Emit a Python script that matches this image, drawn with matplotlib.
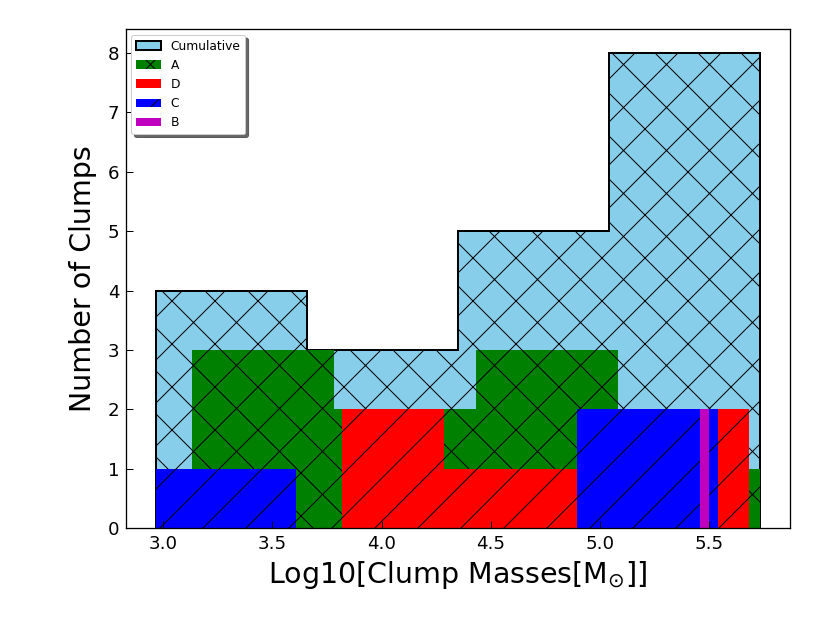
import numpy as np
from matplotlib import pyplot as plt
import matplotlib.legend as mlegend
from matplotlib.patches import Shadow

# log10 clump masses per region
massA = [3.134, 3.35, 3.55, 4.05, 4.40, 4.60, 4.80, 4.95, 5.731]
massD = [3.821, 4.10, 4.50, 5.10, 5.45, 5.681]
massC = [2.967, 5.25, 5.539]
massB = [5.479, 5.479]
allMasses = massA + massD + massC + massB

# high dpi so the hatch spacing comes out wide; sizes below are in points
DPI = 258
px = 72.0 / DPI

plt.rcParams['hatch.linewidth'] = 1.0 * px
plt.rcParams['axes.linewidth'] = 1.3 * px

# smaller legend shadow offset (it is fixed at 2pt otherwise)
mlegend.Shadow = lambda patch, ox, oy, **kw: Shadow(patch, ox * 0.45, oy * 0.45, **kw)

fig, ax = plt.subplots(figsize=(830 / DPI, 622 / DPI), dpi=DPI)
fig.subplots_adjust(left=0.1514, right=0.9518, bottom=0.1511, top=0.9529)

ax.hist(allMasses, bins=4, histtype='stepfilled', color='skyblue',
        edgecolor='black', linewidth=2.0 * px, hatch='xx', label='Cumulative')
ax.hist(massA, bins=4, color='g', hatch='xx', label='A')
ax.hist(massD, bins=4, color='r', hatch='//', label='D')
ax.hist(massC, bins=4, color='b', hatch='//', label='C')
ax.hist(massB, bins=23, color='m', label='B')

lo, hi = min(allMasses), max(allMasses)
ax.set_xlim(lo - 0.05 * (hi - lo), hi + 0.05 * (hi - lo))

ax.set_xlabel(r'Log10[Clump Masses[M$_{\odot}$]]', fontsize=28.5 * px,
              labelpad=6.5 * px)
ax.set_ylabel('Number of Clumps', fontsize=28.5 * px, labelpad=10 * px)
ax.tick_params(direction='in', length=6.7 * px, width=1.0 * px,
               pad=6.5 * px, labelsize=18.3 * px)

leg = ax.legend(loc='upper left', fontsize=12.3 * px, shadow={'alpha': 0.85},
                fancybox=True, borderaxespad=0.45)
leg.get_frame().set_linewidth(1.0 * px)

plt.savefig('out.png', dpi=DPI)
